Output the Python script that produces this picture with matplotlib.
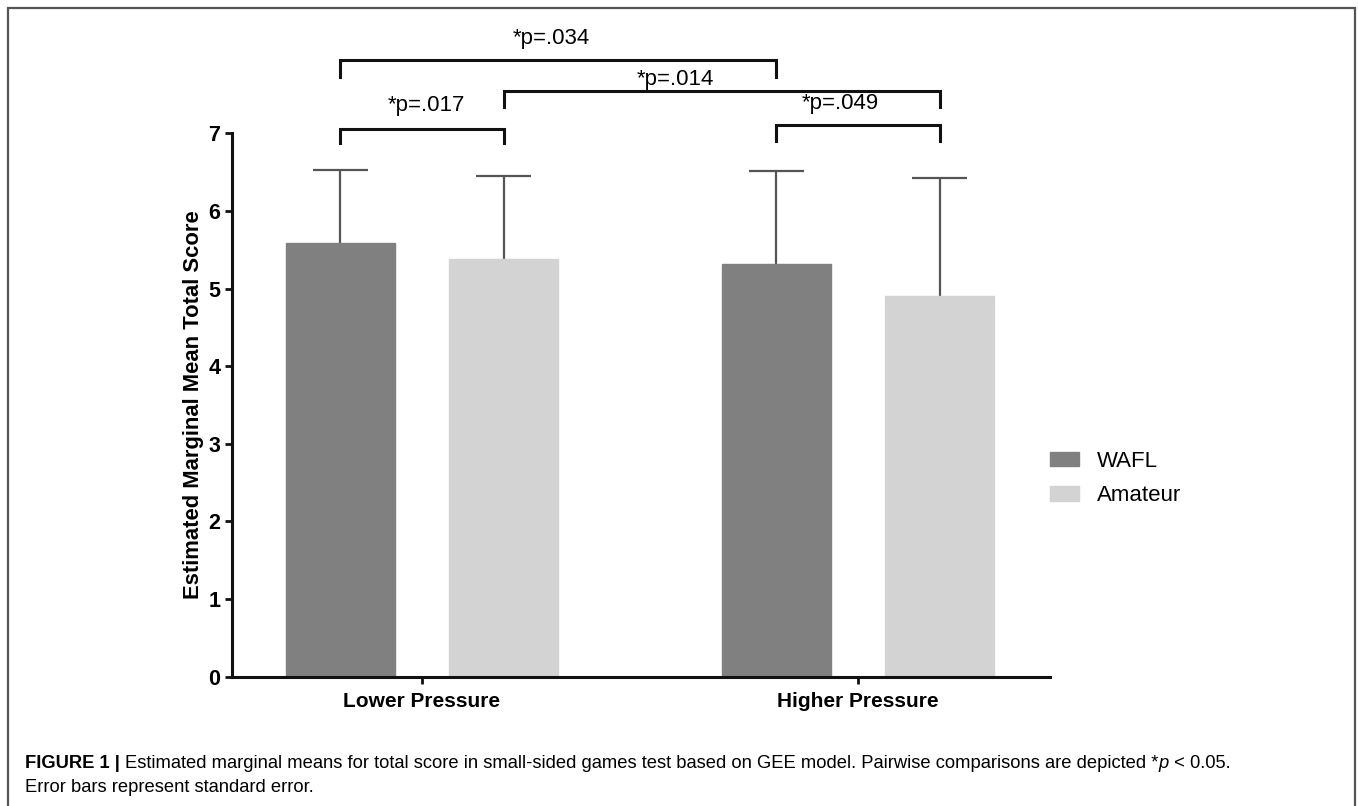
import matplotlib
matplotlib.use("Agg")
import matplotlib.pyplot as plt
from matplotlib.patches import Rectangle
import numpy as np

plt.rcParams['font.family'] = ['Liberation Sans', 'DejaVu Sans']

categories = ["Lower Pressure", "Higher Pressure"]
series_names = ["WAFL", "Amateur"]
wafl_means = [5.59, 5.32]
amateur_means = [5.38, 4.90]
wafl_se = [0.94, 1.20]
amateur_se = [1.07, 1.53]
colors = ["#808080", "#d3d3d3"]
y_ticks = [0, 1, 2, 3, 4, 5, 6, 7]
# comparisons: (bar index a, bar index b, label); bars ordered L-WAFL, L-Am, H-WAFL, H-Am
comparisons = [(0, 1, "*p=.017"), (2, 3, "*p=.049"), (0, 2, "*p=.034"), (1, 3, "*p=.014")]
caption_bold = "FIGURE 1 | "
caption_1 = "Estimated marginal means for total score in small-sided games test based on GEE model. Pairwise comparisons are depicted *"
caption_italic = "p"
caption_2 = " < 0.05."
caption_line2 = "Error bars represent standard error."

W, H = 1358, 806
fig = plt.figure(figsize=(W / 100, H / 100), dpi=100)
ax = fig.add_axes([231.7 / W, 1 - 676.7 / H, (1050 - 231.7) / W, (676.7 - 133.4) / H])

x = np.arange(len(categories))
off = 0.1875
bw = 0.25
cap_half = 0.063
pos = [x[0] - off, x[0] + off, x[1] - off, x[1] + off]
for i, (means, se, c, name) in enumerate(zip([wafl_means, amateur_means], [wafl_se, amateur_se], colors, series_names)):
    xs = x + (-off if i == 0 else off)
    means = np.asarray(means)
    tops = means + np.asarray(se)
    ax.bar(xs, means, width=bw, color=c, edgecolor=c, label=name, zorder=2)
    ax.vlines(xs, means, tops, color='#555555', lw=1.6, zorder=1)
    ax.hlines(tops, xs - cap_half, xs + cap_half, color='#555555', lw=1.6, zorder=1)

ax.set_xlim(-0.4365, 1.44)
ax.set_ylim(0, 7)
ax.set_yticks(y_ticks)
ax.set_xticks(x)
ax.set_xticklabels(categories, fontsize=15, fontweight='bold')
for t in ax.get_yticklabels():
    t.set_fontsize(15.5)
    t.set_fontweight('bold')
ax.set_ylabel("Estimated Marginal Mean Total Score", fontsize=15.8, fontweight='bold', labelpad=3)
for s in ['top', 'right']:
    ax.spines[s].set_visible(False)
for s in ['left', 'bottom']:
    ax.spines[s].set_linewidth(2.2)
    ax.spines[s].set_color('#111111')
ax.tick_params(axis='both', width=2, length=5, color='#111111', pad=3)
ax.tick_params(axis='x', pad=6)

# significance brackets: (horizontal y, end y, text y, text x)
levels = {(0, 1): (7.06, 6.87, 7.36, 0.011), (2, 3): (7.11, 6.90, 7.38, 0.959),
          (0, 2): (7.94, 7.73, 8.22, 0.297), (1, 3): (7.54, 7.34, 7.70, 0.580)}
for a, b, lab in comparisons:
    ytop, ybot, ytxt, tx = levels[(a, b)]
    ax.plot([pos[a], pos[a], pos[b], pos[b]], [ybot, ytop, ytop, ybot], color='#111111',
            lw=2.2, clip_on=False, solid_joinstyle='miter', zorder=3)
    ax.text(tx, ytxt, lab, ha='center', va='center', fontsize=16, clip_on=False)

leg = ax.legend(loc='center left', bbox_to_anchor=(1050 / W, 1 - 478.5 / H),
                bbox_transform=fig.transFigure, frameon=False, fontsize=16,
                handlelength=1.3, handleheight=0.63, handletextpad=0.8,
                labelspacing=0.6, borderpad=0, borderaxespad=0)

# frame
fig.patches.append(Rectangle((8 / W, -0.05), (1355 - 8) / W, 1 - 8 / H + 0.05,
                             transform=fig.transFigure, fill=False,
                             edgecolor='#555555', lw=1.6))

# caption
fig.canvas.draw()
renderer = fig.canvas.get_renderer()
xpix = 25
ypix = 764
cap_fs = 13.2
for txt, kw in [(caption_bold, dict(fontweight='bold')), (caption_1, {}),
                (caption_italic, dict(style='italic')), (caption_2, {})]:
    t = fig.text(xpix / W, 1 - ypix / H, txt, fontsize=cap_fs, va='center', ha='left', **kw)
    bb = t.get_window_extent(renderer)
    xpix += bb.width
fig.text(25 / W, 1 - 787 / H, caption_line2, fontsize=cap_fs, va='center', ha='left')

fig.savefig("out.png", dpi=100)
